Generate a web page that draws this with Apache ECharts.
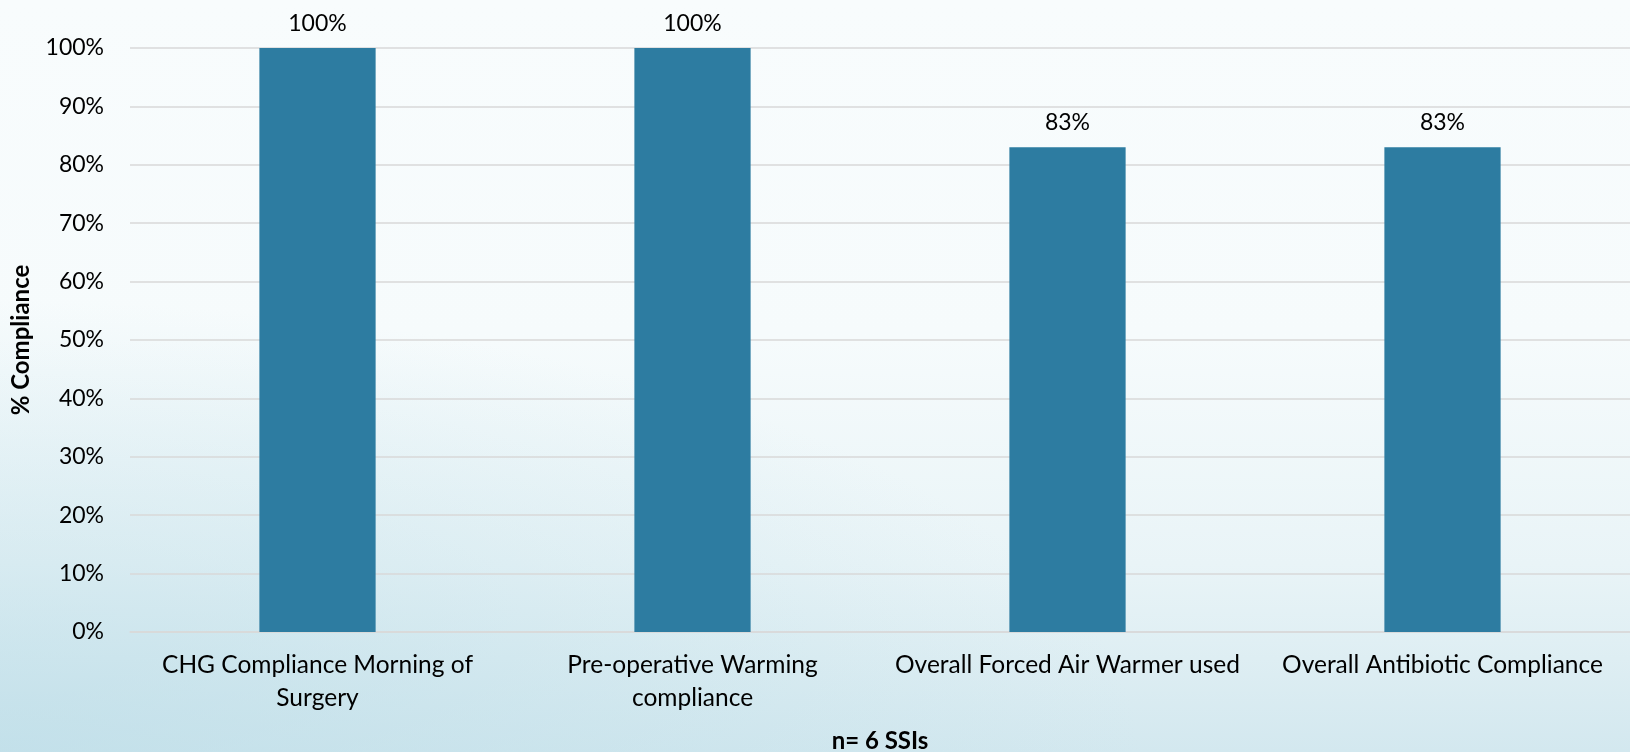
<!DOCTYPE html>
<html>
<head>
<meta charset="utf-8">
<script src="https://cdn.jsdelivr.net/npm/echarts@6/dist/echarts.min.js"></script>
<style>
  html, body { margin: 0; padding: 0; }
  body {
    width: 1630px; height: 752px; overflow: hidden;
    background:
      radial-gradient(ellipse 70% 60% at 0% 100%, rgba(186,220,231,0.65) 0%, rgba(186,220,231,0) 100%),
      linear-gradient(to bottom, #f8fcfd 0%, #f6fbfc 45%, #e9f4f7 75%, #d3e8ef 100%);
  }
  #chart { width: 1630px; height: 752px; }
</style>
</head>
<body>
<div id="chart"></div>
<script>
// Compliance measures (n = 6 SSIs)
const categories = [
  'CHG Compliance Morning of\nSurgery',
  'Pre-operative Warming\ncompliance',
  'Overall Forced Air Warmer used',
  'Overall Antibiotic Compliance'
];
const compliance = [100, 100, 83, 83];
const yTicks = [0, 10, 20, 30, 40, 50, 60, 70, 80, 90, 100];

const FONT = 'Lato';
const chart = echarts.init(document.getElementById('chart'));

chart.setOption({
  backgroundColor: 'transparent',
  animation: false,
  textStyle: { fontFamily: FONT },
  grid: { left: 130, right: 0, top: 48, bottom: 120, containLabel: false, outerBoundsMode: 'none' },
  xAxis: {
    type: 'category',
    data: categories,
    name: 'n= 6 SSIs',
    nameLocation: 'middle',
    nameGap: 97,
    nameTextStyle: { fontFamily: FONT, fontSize: 24, fontWeight: 'bold', color: '#000' },
    axisLine: { show: true, lineStyle: { color: '#d9d9d9', width: 1.5 } },
    axisTick: { show: false },
    axisLabel: {
      interval: 0,
      color: '#000',
      fontFamily: FONT,
      fontSize: 24.5,
      lineHeight: 33,
      margin: 17
    }
  },
  yAxis: {
    type: 'value',
    min: 0,
    max: 100,
    interval: 10,
    name: '% Compliance',
    nameLocation: 'middle',
    nameGap: 97,
    nameRotate: 90,
    nameTextStyle: { fontFamily: FONT, fontSize: 24, fontWeight: 'bold', color: '#000' },
    axisLine: { show: false },
    axisTick: { show: false },
    splitLine: { lineStyle: { color: '#d9d9d9', width: 1.5 } },
    axisLabel: {
      color: '#000',
      fontFamily: FONT,
      fontSize: 23,
      margin: 26,
      formatter: v => yTicks.includes(v) ? v + '%' : ''
    }
  },
  series: [{
    type: 'bar',
    data: compliance,
    barWidth: '31%',
    itemStyle: { color: '#2d7ca1' },
    label: {
      show: true,
      position: 'top',
      distance: 13,
      color: '#000',
      fontFamily: FONT,
      fontSize: 23,
      formatter: p => p.value + '%'
    }
  }]
});
</script>
</body>
</html>
